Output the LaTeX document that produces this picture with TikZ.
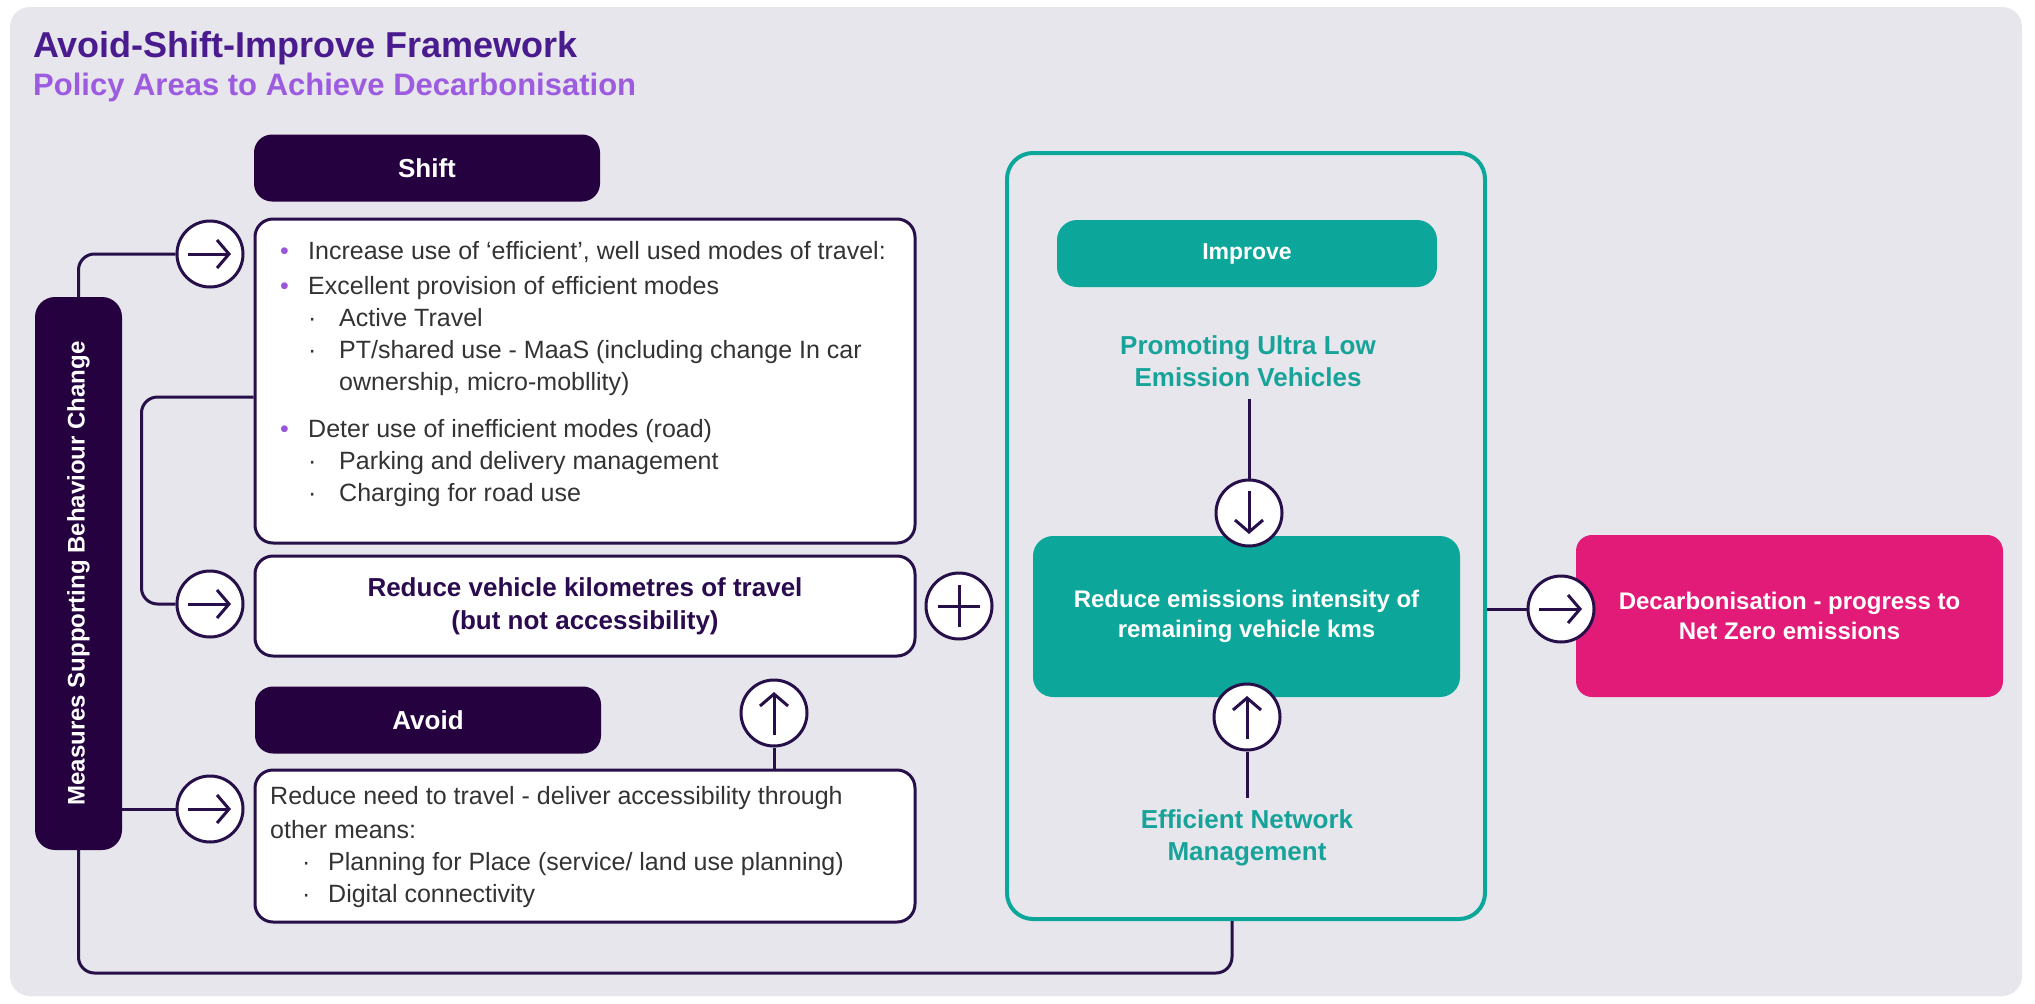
\documentclass[tikz,border=0pt]{standalone}
\usepackage{fontspec}
\setmainfont{Liberation Sans}
\usepackage{graphicx}
\usetikzlibrary{arrows.meta,positioning}

\definecolor{plum}{HTML}{25023F}
\definecolor{ink}{HTML}{27104A}
\definecolor{panel}{HTML}{E6E6EC}
\definecolor{improveteal}{HTML}{0CA79A}
\definecolor{labelteal}{HTML}{17A399}
\definecolor{netzero}{HTML}{E31B78}
\definecolor{titlepurple}{HTML}{4A1A8F}
\definecolor{subpurple}{HTML}{9D5BE0}
\definecolor{dotpurple}{HTML}{9A55DA}
\definecolor{bodygrey}{HTML}{333333}
\definecolor{reducepurple}{HTML}{2B0B4F}

\newcommand{\setfs}[2]{\fontsize{#1}{#2}\selectfont}
\newcommand{\bul}{\makebox[28pt][l]{\textcolor{dotpurple}{\textbullet}}}
\newcommand{\subbul}{\makebox[31pt][l]{\textperiodcentered}}

\begin{document}
\begin{tikzpicture}[x=1pt, y=-1pt,
    header/.style={rectangle, rounded corners=18pt, fill=plum, text=white, font=\setfs{26}{30}\bfseries, minimum width=346pt, minimum height=67pt, inner sep=0pt},
    panelbox/.style={rectangle, rounded corners=18pt, draw=ink, line width=3pt, fill=white, minimum width=660pt, inner sep=0pt},
    bar/.style={rectangle, rounded corners=20pt, fill=plum, text=white, font=\setfs{24}{28}\bfseries, minimum width=87pt, minimum height=553pt, inner sep=0pt},
    tealbox/.style={rectangle, rounded corners=20pt, fill=improveteal, text=white, font=\setfs{23}{30}\bfseries, align=center, inner sep=0pt},
    tealtext/.style={text=labelteal, font=\setfs{26}{32}\bfseries, align=center, inner sep=12pt},
    link/.style={draw=ink, line width=3pt, rounded corners=16pt},
    glyph/.style={draw=ink, line width=3pt, -{Straight Barb[length=12pt, width=28pt]}},
    hub/.style={circle, draw=ink, line width=3pt, fill=white, minimum size=66pt, inner sep=0pt},
    goright/.style={hub, path picture={\draw[glyph] ([xshift=-22pt]path picture bounding box.center) -- ([xshift=21pt]path picture bounding box.center);}},
    goup/.style={hub, path picture={\draw[glyph] ([yshift=-22pt]path picture bounding box.center) -- ([yshift=21pt]path picture bounding box.center);}},
    godown/.style={hub, path picture={\draw[glyph] ([yshift=22pt]path picture bounding box.center) -- ([yshift=-21pt]path picture bounding box.center);}},
    plushub/.style={hub, path picture={\draw[draw=ink, line width=3pt] ([xshift=-21pt]path picture bounding box.center) -- ([xshift=21pt]path picture bounding box.center) ([yshift=-21pt]path picture bounding box.center) -- ([yshift=21pt]path picture bounding box.center);}}]

    % page and panel
    \fill[white] (0,0) rectangle (2035,1004);
    \useasboundingbox (0,0) rectangle (2035,1004);
    \fill[panel, rounded corners=20pt] (10,7) rectangle (2022,996);

    % titles
    \node[anchor=base west, inner sep=0pt, text=titlepurple, font=\setfs{36}{40}\bfseries] (title) at (33,57) {Avoid-Shift-Improve Framework};
    \node[anchor=base west, inner sep=0pt, text=subpurple, font=\setfs{31}{34}\bfseries] (subtitle) at (33,95) {Policy Areas to Achieve Decarbonisation};

    % shift / avoid column
    \node[bar] (measures) at (78.5,573.5) {\rotatebox{90}{Measures Supporting Behaviour Change}};
    \node[header] (shift) at (427,168) {Shift};
    \node[panelbox, minimum height=324pt] (shiftbox) at (585,381) {};
    \node[anchor=base west, inner sep=0pt, text=bodygrey, font=\setfs{25}{32}] (shifttext) at (280,259) {\begin{tabular}[t]{@{}l@{}}
        \bul Increase use of `efficient', well used modes of travel:\\[3pt]
        \bul Excellent provision of efficient modes\\
        \hspace*{28pt}\subbul Active Travel\\
        \hspace*{28pt}\subbul PT/shared use - MaaS (including change In car\\
        \hspace*{59pt}ownership, micro-mobllity)\\[15pt]
        \bul Deter use of inefficient modes (road)\\
        \hspace*{28pt}\subbul Parking and delivery management\\
        \hspace*{28pt}\subbul Charging for road use
        \end{tabular}};
    \node[panelbox, minimum height=100pt, text=reducepurple, font=\setfs{26}{33}\bfseries, align=center] (reduce) at (585,606) {Reduce vehicle kilometres of travel\\(but not accessibility)};
    \node[header] (avoid) at (428,720) {Avoid};
    \node[panelbox, minimum height=152pt] (avoidbox) at (585,846) {};
    \node[anchor=base west, inner sep=0pt, text=bodygrey, font=\setfs{25}{32}] (avoidtext) at (270,804) {\begin{tabular}[t]{@{}l@{}}
        Reduce need to travel - deliver accessibility through\\[2pt]
        other means:\\
        \hspace*{32pt}\makebox[26pt][l]{\textperiodcentered}Planning for Place (service/ land use planning)\\
        \hspace*{32pt}\makebox[26pt][l]{\textperiodcentered}Digital connectivity
        \end{tabular}};

    % improve column
    \node[draw=improveteal, line width=4pt, rounded corners=26pt, minimum width=478pt, minimum height=766pt] (improveframe) at (1246,536) {};
    \node[tealbox, minimum width=380pt, minimum height=67pt] (improve) at (1247,253.5) {Improve};
    \node[tealtext] (ulev) at (1248,361) {Promoting Ultra Low\\Emission Vehicles};
    \node[tealbox, minimum width=427pt, minimum height=161pt, font=\setfs{24}{30}\bfseries] (intensity) at (1246.5,616.5) {Reduce emissions intensity of\\remaining vehicle kms};
    \node[tealtext] (network) at (1247,838) {Efficient Network\\Management};
    \node[rectangle, rounded corners=16pt, fill=netzero, text=white, font=\setfs{24}{30}\bfseries, align=center, minimum width=427pt, minimum height=162pt] (decarb) at (1789.5,616) {Decarbonisation - progress to\\Net Zero emissions};

    % hubs
    \node[goright] (toshift) at (210,254) {};
    \node[goright] (toreduce) at (210,604) {};
    \node[goright] (toavoid) at (210,809) {};
    \node[plushub] (plus) at (959,606) {};
    \node[goup] (fromavoid) at (774,713) {};
    \node[godown] (fromulev) at (1249,513) {};
    \node[goup] (fromnetwork) at (1247,717) {};
    \node[goright] (tonetzero) at (1561,609) {};

    % connectors
    \coordinate (shifttap) at ([yshift=-16pt]shiftbox.west);
    \coordinate (busend) at (1232,973);
    \draw[link] (measures.north) |- (toshift.west);
    \draw[link] (shifttap) -- ++(-112,0) |- (toreduce.west);
    \draw[link] (measures.east |- toavoid) -- (toavoid.west);
    \draw[link] (measures.south) |- (busend) -- (busend |- improveframe.south);
    \draw[link] (avoidbox.north -| fromavoid) -- (fromavoid.south);
    \draw[link] (ulev.south -| fromulev) -- (fromulev.north);
    \draw[link] (fromnetwork.south) -- (network.north -| fromnetwork);
    \draw[link] (improveframe.east |- tonetzero) -- (tonetzero.west);
\end{tikzpicture}
\end{document}
